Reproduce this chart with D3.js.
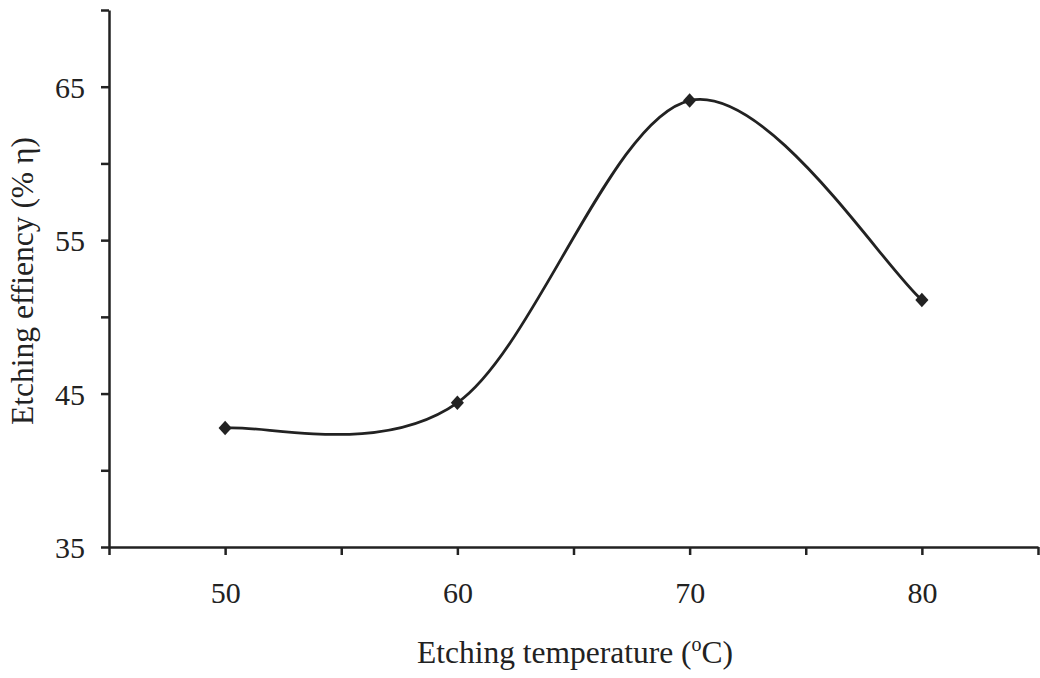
<!DOCTYPE html>
<html>
<head>
<meta charset="utf-8">
<script src="https://cdn.jsdelivr.net/npm/d3@7"></script>
<style>
  body { margin: 0; background: #fff; }
  text { font-family: "Liberation Serif", "Times New Roman", serif; fill: #222; }
</style>
</head>
<body>
<svg id="chart" width="1040" height="678"></svg>
<script>
// data
const temps = [50, 60, 70, 80];
const efficiency = [42.75, 44.4, 64.1, 51.1];
const xTicks = [45, 50, 55, 60, 65, 70, 75, 80, 85];
const xLabels = [50, 60, 70, 80];
const yTicks = [35, 40, 45, 50, 55, 60, 65, 70];
const yLabels = [35, 45, 55, 65];

const svg = d3.select("#chart");
const x = d3.scaleLinear().domain([45, 85]).range([109, 1038]);
const y = d3.scaleLinear().domain([35, 70]).range([547, 10]);

const ink = "#222";

// spreadsheet-style smoothing: catmull-rom bezier, ends use the point itself as neighbour
function smoothCurve(context) {
  return {
    areaStart() {}, areaEnd() {},
    lineStart() { this.p = []; },
    point(px, py) { this.p.push([+px, +py]); },
    lineEnd() {
      const p = this.p, n = p.length, k = 1 / 6;
      if (!n) return;
      context.moveTo(p[0][0], p[0][1]);
      for (let i = 0; i < n - 1; i++) {
        const a = p[i - 1] || p[i], b = p[i], c = p[i + 1], d = p[i + 2] || p[i + 1];
        context.bezierCurveTo(
          b[0] + k * (c[0] - a[0]), b[1] + k * (c[1] - a[1]),
          c[0] - k * (d[0] - b[0]), c[1] - k * (d[1] - b[1]),
          c[0], c[1]);
      }
    }
  };
}

// x axis
const xAxis = svg.append("g")
    .attr("transform", `translate(0,${y(35)})`)
    .call(d3.axisBottom(x).tickValues(xTicks).tickSizeInner(8).tickSizeOuter(0)
      .tickFormat(d => xLabels.includes(d) ? d : ""));
xAxis.select(".domain").attr("stroke", ink).attr("stroke-width", 2.5);
xAxis.selectAll(".tick line").attr("stroke", ink).attr("stroke-width", 2.5);
xAxis.selectAll(".tick text")
    .attr("y", 56)
    .attr("dy", 0)
    .style("font-size", "30px")
    .style("font-family", "Liberation Serif")
    .attr("fill", ink);

// y axis
const yAxis = svg.append("g")
    .attr("transform", `translate(${x(45)},0)`)
    .call(d3.axisLeft(y).tickValues(yTicks).tickSizeInner(8).tickSizeOuter(0)
      .tickFormat(d => yLabels.includes(d) ? d : ""));
yAxis.select(".domain").attr("stroke", ink).attr("stroke-width", 2.5);
yAxis.selectAll(".tick line").attr("stroke", ink).attr("stroke-width", 2.5);
yAxis.selectAll(".tick text")
    .attr("x", -24)
    .attr("dy", "0.36em")
    .style("font-size", "30px")
    .style("font-family", "Liberation Serif")
    .attr("fill", ink);

// smooth line
const pts = temps.map((t, i) => [t, efficiency[i]]);
const line = d3.line()
    .x(d => x(d[0]))
    .y(d => y(d[1]))
    .curve(smoothCurve);

svg.append("path")
    .datum(pts)
    .attr("d", line)
    .attr("fill", "none")
    .attr("stroke", ink)
    .attr("stroke-width", 2.8);

svg.selectAll(".marker")
    .data(pts)
    .enter().append("path")
    .attr("class", "marker")
    .attr("transform", d => `translate(${x(d[0])},${y(d[1])}) scale(1,1.1)`)
    .attr("d", d3.symbol().type(d3.symbolDiamond2).size(110))
    .attr("fill", ink);

// axis titles
const xt = svg.append("text")
    .attr("x", 575)
    .attr("y", 663)
    .attr("text-anchor", "middle")
    .style("font-size", "31.5px");
xt.append("tspan").text("Etching temperature (");
xt.append("tspan").attr("dy", -12).style("font-size", "20px").text("o");
xt.append("tspan").attr("dy", 12).text("C)");

svg.append("text")
    .attr("transform", "translate(33,281) rotate(-90)")
    .attr("text-anchor", "middle")
    .style("font-size", "31.5px")
    .text("Etching effiency (% η)");
</script>
</body>
</html>
